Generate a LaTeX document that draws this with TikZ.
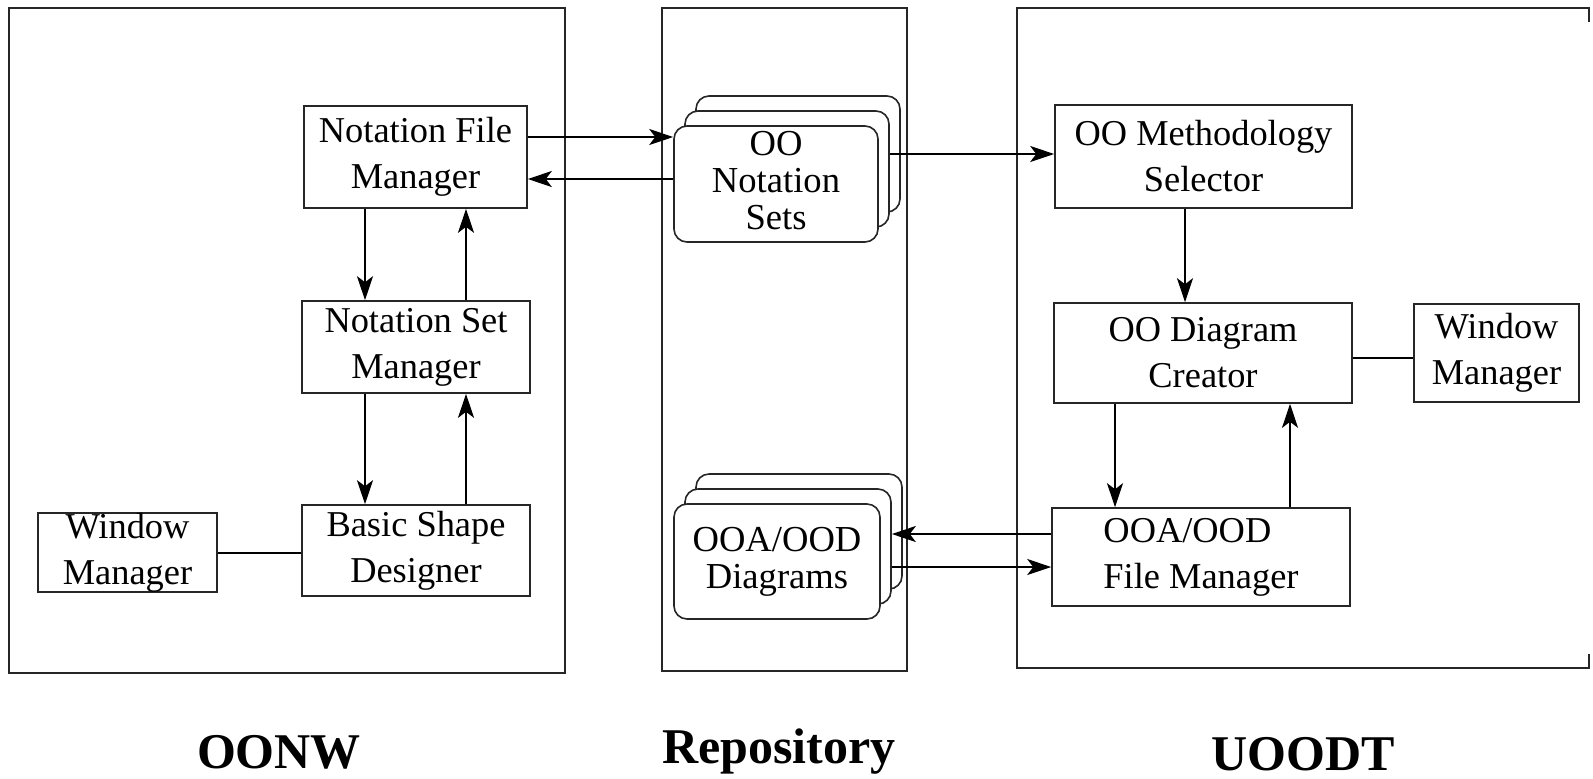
\documentclass[tikz,border=0pt]{standalone}
\usepackage{fontspec}
\setmainfont{Liberation Serif}
\usetikzlibrary{arrows.meta}
\begin{document}
\begin{tikzpicture}[x=0.5pt,y=-0.5pt,
  panel/.style={draw=black!85, line width=0.8pt},
  box/.style={draw=black!85, line width=0.8pt, fill=white, align=center, inner sep=0pt,
    font=\fontsize{18.2}{23}\selectfont},
  card/.style={draw=black!85, line width=0.8pt, fill=white, rounded corners=6.5pt,
    inner sep=0pt},
  cardtext/.style={align=center, font=\fontsize{18.3}{18.5}\selectfont},
  arr/.style={line width=1pt, -{Stealth[length=12pt,width=8pt,inset=3pt]}},
  link/.style={line width=1pt},
  title/.style={font=\bfseries\fontsize{25}{30}\selectfont}
]
\useasboundingbox[fill=white] (0,0) rectangle (1593,778);

% three subsystem panels (the right one runs off the page edge)
\draw[panel] (9,8) rectangle (565,673);
\draw[panel] (662,8) rectangle (907,671);
\draw[panel] (1589,22) -- (1589,8) -- (1017,8) -- (1017,668) -- (1589,668) -- (1589,654);

% OONW components
\node[box, minimum width=111.5pt, minimum height=51pt] (nfm) at (415.5,157) {Notation File\\Manager};
\node[box, minimum width=114pt, minimum height=46pt] (nsm) at (416,347) {Notation Set\\Manager};
\node[box, minimum width=114pt, minimum height=45.5pt] (bsd) at (416,550.5) {Basic Shape\\Designer};
\node[box, minimum width=89.5pt, minimum height=39.5pt] (wml) at (127.5,552.5) {Window\\Manager};

% Repository stores (stacked cards)
\node[card, minimum width=102pt, minimum height=58pt] (ons3) at (798,154) {};
\node[card, minimum width=102pt, minimum height=58pt] (ons2) at (787,169) {};
\node[card, minimum width=102pt, minimum height=58pt] (ons1) at (776,184) {};
\node[cardtext] (onst) at (776,181) {OO\\Notation\\Sets};

\node[card, minimum width=103pt, minimum height=57.5pt] (dg3) at (799,531.5) {};
\node[card, minimum width=103pt, minimum height=57.5pt] (dg2) at (788,546.5) {};
\node[card, minimum width=103pt, minimum height=57.5pt] (dg1) at (777,561.5) {};
\node[cardtext] (dgt) at (dg1) {OOA/OOD\\Diagrams};

% UOODT components
\node[box, minimum width=148.5pt, minimum height=51.5pt] (oms) at (1203.5,156.5) {OO Methodology\\Selector};
\node[box, minimum width=149pt, minimum height=50pt] (odc) at (1203,353) {OO Diagram\\Creator};
\node[box, minimum width=82.5pt, minimum height=49pt] (wmr) at (1496.5,353) {Window\\Manager};
\node[box, minimum width=149pt, minimum height=49pt, align=left] (ffm) at (1201,557) {OOA/OOD\\File Manager};

% connector guide lines
\coordinate (yA) at (0,137);
\coordinate (yB) at (0,179);
\coordinate (yC) at (0,154);
\coordinate (yD) at (0,534);
\coordinate (yE) at (0,567);
\coordinate (yF) at (0,553);
\coordinate (yG) at (0,358);
\coordinate (xL1) at (365,0);
\coordinate (xL2) at (466,0);
\coordinate (xR0) at (1185,0);
\coordinate (xR1) at (1115,0);
\coordinate (xR2) at (1290,0);

% OONW connectors
\draw[arr] (nfm.south -| xL1) -- (nsm.north -| xL1);
\draw[arr] (nsm.north -| xL2) -- (nfm.south -| xL2);
\draw[arr] (nsm.south -| xL1) -- (bsd.north -| xL1);
\draw[arr] (bsd.north -| xL2) -- (nsm.south -| xL2);
\draw[link] (wml.east |- yF) -- (bsd.west |- yF);

% repository connectors
\draw[arr] (nfm.east |- yA) -- (ons1.west |- yA);
\draw[arr] (ons1.west |- yB) -- (nfm.east |- yB);
\draw[arr] (ons2.east |- yC) -- (oms.west |- yC);
\draw[arr] (ffm.west |- yD) -- (dg2.east |- yD);
\draw[arr] (dg2.east |- yE) -- (ffm.west |- yE);

% UOODT connectors
\draw[arr] (oms.south -| xR0) -- (odc.north -| xR0);
\draw[arr] (odc.south -| xR1) -- (ffm.north -| xR1);
\draw[arr] (ffm.north -| xR2) -- (odc.south -| xR2);
\draw[link] (odc.east |- yG) -- (wmr.west |- yG);

% subsystem titles
\node[title] (t1) at (279,752) {OONW};
\node[title] (t2) at (779,752) {Repository};
\node[title] (t3) at (1303,754) {UOODT};
\end{tikzpicture}
\end{document}
